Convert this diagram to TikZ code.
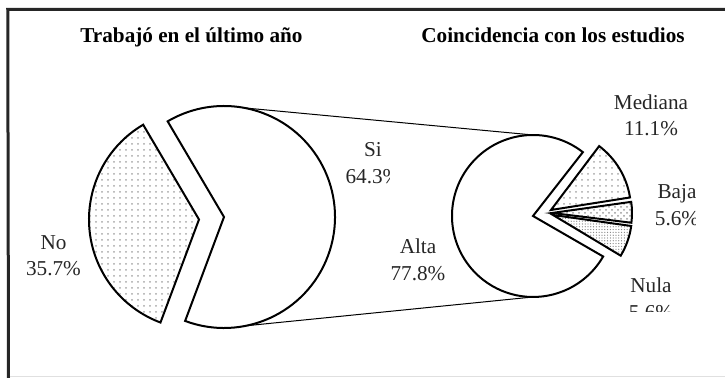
\documentclass[tikz,border=0pt]{standalone}
\usepackage{fontspec}
\setmainfont{Liberation Serif}
\usetikzlibrary{patterns}
\pgfdeclarepatternformonly{finedots}{\pgfqpoint{-1pt}{-1pt}}{\pgfqpoint{1pt}{1pt}}{\pgfqpoint{1.4pt}{1.4pt}}{%
  \pgfpathcircle{\pgfqpoint{0pt}{0pt}}{.32pt}\pgfusepath{fill}}
\begin{document}
\begin{tikzpicture}[x=0.5pt,y=0.5pt,
  slice/.style={draw=black, line width=1pt, line join=miter},
  ttl/.style={font=\fontsize{10.6}{13}\selectfont\bfseries, anchor=base, inner sep=0pt},
  lbl/.style={font=\fontsize{10.6}{13}\selectfont, anchor=base, inner sep=0pt, text=black!85},
  link/.style={draw=black, line width=0.5pt},
  framel/.style={draw=black!85, line width=1.5pt},
  faint/.style={draw=black!12, line width=0.5pt}]
\useasboundingbox (0,0) rectangle (725,378);
% frame
\coordinate (fTL) at (7.75,368.5);
\coordinate (fTR) at (725,368.5);
\coordinate (fBL) at (8.5,0);
\coordinate (gL) at (8,1);
\coordinate (gR) at (725,1);
\draw[faint] (gL) -- (gR);
\draw[framel] (fTR) -- (fTL) -- (fBL);
% centres
\coordinate (S) at (224,161);
\coordinate (N0) at (199,158.5);
\coordinate (A) at (533,162);
\coordinate (M) at (551,168);
\coordinate (B) at (552,165);
\coordinate (U) at (553,163);
% connectors
\coordinate (siTop) at (224,272);
\coordinate (siBot) at (224,50);
\coordinate (alTop) at (533,243);
\coordinate (alBot) at (533,81);
\draw[link] (siTop) -- (alTop);
\draw[link] (siBot) -- (alBot);
% left pie
\path[slice, pattern=dots, pattern color=gray!70] (N0) -- ++(120.5:110) arc[start angle=120.5, end angle=249.5, radius=110] -- cycle;
\path[slice, fill=white] (S) -- ++(-110.5:111) arc[start angle=-110.5, end angle=120.5, radius=111] -- cycle;
% right pie
\path[slice, fill=white] (A) -- ++(52:81) arc[start angle=52, end angle=330, radius=81] -- cycle;
\path[slice, pattern=dots, pattern color=gray!70] (M) -- ++(9:80) arc[start angle=9, end angle=53, radius=80] -- cycle;
\path[slice, pattern=crosshatch dots, pattern color=gray!80] (B) -- ++(-7:80) arc[start angle=-7, end angle=8, radius=80] -- cycle;
\path[slice, pattern=finedots, pattern color=gray] (U) -- ++(-31:79) arc[start angle=-31, end angle=-8, radius=79] -- cycle;
% titles
\node[ttl] (t1) at (191.5,335.5) {Trabajó en el último año};
\node[ttl] (t2) at (553,335.5) {Coincidencia con los estudios};
% labels
\node[lbl] (noA) at (53.5,128) {No};
\node[lbl] (noB) at (53.5,102) {35.7\%};
\node[lbl] (siA) at (373,221.5) {Si};
\begin{scope}
\clip (300,150) rectangle (389,230);
\node[lbl] (siB) at (373,194.5) {64.3\%};
\end{scope}
\node[lbl] (alA) at (418,124.5) {Alta};
\node[lbl] (alB) at (418,97) {77.8\%};
\node[lbl] (meA) at (651,268.5) {Mediana};
\node[lbl] (meB) at (651,242) {11.1\%};
\begin{scope}
\clip (600,100) rectangle (695,200);
\node[lbl] (baA) at (677,179.5) {Baja};
\node[lbl] (baB) at (677,152) {5.6\%};
\end{scope}
\begin{scope}
\clip (600,66) rectangle (700,120);
\node[lbl] (nuA) at (651,85) {Nula};
\node[lbl] (nuB) at (651,58) {5.6\%};
\end{scope}
\end{tikzpicture}
\end{document}
